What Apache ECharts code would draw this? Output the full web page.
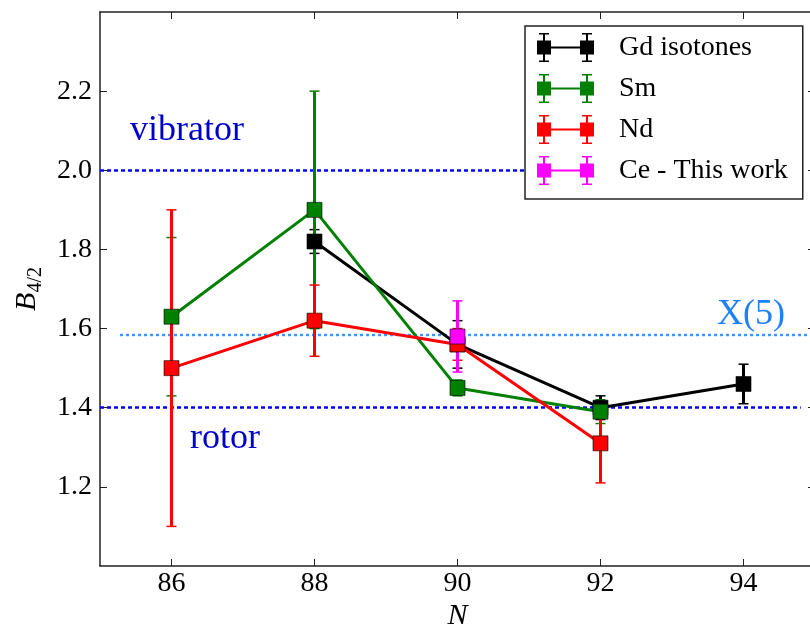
<!DOCTYPE html>
<html>
<head>
<meta charset="utf-8">
<script src="https://cdn.jsdelivr.net/npm/echarts@6/dist/echarts.min.js"></script>
<style>
  html, body { margin: 0; padding: 0; background: #fff; }
  #chart { width: 810px; height: 630px; }
</style>
</head>
<body>
<div id="chart"></div>
<script>
// tick labels
const xTicks = [86, 88, 90, 92, 94];
const yTicks = [1.2, 1.4, 1.6, 1.8, 2.0, 2.2];

// Gd isotones
const gdN = [88, 90, 92, 94];
const gdVal = [1.82, 1.56, 1.40, 1.46];
const gdErr = [0.03, 0.06, 0.03, 0.05];

// Sm
const smN = [86, 88, 90, 92];
const smVal = [1.63, 1.90, 1.45, 1.39];
const smErr = [0.20, 0.30, 0.02, 0.03];

// Nd
const ndN = [86, 88, 90, 92];
const ndVal = [1.50, 1.62, 1.56, 1.31];
const ndErr = [0.40, 0.09, 0.04, 0.10];

// Ce - this work
const ceN = [90];
const ceVal = [1.58];
const ceErr = [0.09];

// reference limits
const vibrator = 2.0;
const rotor = 1.4;
const x5 = 1.585;

const serif = "'Liberation Serif', 'DejaVu Serif', serif";

const dom = document.getElementById("chart");
const myChart = echarts.init(dom);

function lineSeries(name, ns, vals, color) {
  return {
    name: name,
    type: "line",
    z: 3,
    data: ns.map((n, i) => [n, vals[i]]),
    symbol: "rect",
    symbolSize: 15,
    itemStyle: { color: color, borderColor: "rgba(0,0,0,0.6)", borderWidth: 1 },
    lineStyle: { color: color, width: 3 },
    emphasis: { disabled: true },
  };
}

function errSeries(name, ns, vals, errs, color) {
  return {
    name: name,
    type: "custom",
    z: 2,
    data: ns.map((n, i) => [n, vals[i], errs[i]]),
    renderItem: function (params, api) {
      const x = api.value(0), y = api.value(1), e = api.value(2);
      const top = api.coord([x, y + e]);
      const bot = api.coord([x, y - e]);
      return {
        type: "group",
        children: [
          { type: "line", shape: { x1: top[0], y1: top[1], x2: bot[0], y2: bot[1] }, style: { stroke: color, lineWidth: 3 } },
          { type: "line", shape: { x1: top[0] - 5, y1: top[1], x2: top[0] + 5, y2: top[1] }, style: { stroke: color, lineWidth: 1.5 } },
          { type: "line", shape: { x1: bot[0] - 5, y1: bot[1], x2: bot[0] + 5, y2: bot[1] }, style: { stroke: color, lineWidth: 1.5 } },
        ],
      };
    },
  };
}

const legendIcon =
  "path://M0 7.5h14v14h-14Z M43 7.5h14v14h-14Z M14 13.5h29v2h-29Z" +
  " M6 0h2v29h-2Z M2 0h10v1.5h-10Z M2 27.5h10v1.5h-10Z" +
  " M49 0h2v29h-2Z M45 0h10v1.5h-10Z M45 27.5h10v1.5h-10Z";

const option = {
  animation: false,
  grid: { left: 100, top: 12, right: -5, bottom: 64, outerBoundsMode: "none", containLabel: false },
  legend: {
    orient: "vertical",
    left: 525,
    top: 26,
    z: 10,
    data: ["Gd isotones", "Sm", "Nd", "Ce - This work"],
    icon: legendIcon,
    itemWidth: 57,
    itemHeight: 29,
    itemGap: 12,
    padding: [7, 15, 14, 12],
    backgroundColor: "#fff",
    borderColor: "#222",
    borderWidth: 1.5,
    itemStyle: { borderWidth: 0 },
    textStyle: { fontFamily: serif, fontSize: 28, color: "#000", lineHeight: 29, padding: [0, 0, 0, 20] },
  },
  xAxis: [
    {
      type: "value",
      min: 85,
      max: 95,
      name: "N",
      nameLocation: "middle",
      nameGap: 35,
      nameMoveOverlap: false,
      nameTextStyle: { fontFamily: serif, fontStyle: "italic", fontSize: 30, color: "#000" },
      axisLine: { lineStyle: { color: "#222", width: 1.5 } },
      axisTick: { inside: true, length: 7, customValues: xTicks, lineStyle: { color: "#222" } },
      axisLabel: { customValues: xTicks, margin: 4, fontFamily: serif, fontSize: 28, color: "#000" },
      splitLine: { show: false },
    },
    {
      type: "value",
      position: "top",
      min: 85,
      max: 95,
      axisLine: { lineStyle: { color: "#222", width: 1.5 } },
      axisTick: { inside: true, length: 7, customValues: xTicks, lineStyle: { color: "#222" } },
      axisLabel: { show: false },
      splitLine: { show: false },
    },
  ],
  yAxis: [
    {
      type: "value",
      min: 1.0,
      max: 2.4,
      name: "{b|B}{s|4/2}",
      nameLocation: "middle",
      nameRotate: 90,
      nameGap: 54,
      nameMoveOverlap: false,
      nameTextStyle: {
        rich: {
          b: { fontFamily: serif, fontStyle: "italic", fontSize: 30, color: "#000", lineHeight: 30, padding: [0, 0, 8, 0] },
          s: { fontFamily: serif, fontSize: 20, color: "#000", lineHeight: 20, verticalAlign: "bottom" },
        },
      },
      axisLine: { show: true, lineStyle: { color: "#222", width: 1.5 } },
      axisTick: { show: true, inside: true, length: 7, customValues: yTicks, lineStyle: { color: "#222" } },
      axisLabel: {
        customValues: yTicks,
        margin: 8,
        fontFamily: serif,
        fontSize: 28,
        color: "#000",
        formatter: (v) => v.toFixed(1),
      },
      splitLine: { show: false },
    },
    {
      type: "value",
      position: "right",
      min: 1.0,
      max: 2.4,
      axisLine: { show: false },
      axisTick: { show: true, inside: true, length: 7, customValues: yTicks, lineStyle: { color: "#222" } },
      axisLabel: { show: false },
      splitLine: { show: false },
    },
  ],
  series: [
    {
      name: "limits",
      type: "line",
      data: [],
      z: 1,
      markLine: {
        silent: true,
        z: 1,
        symbol: "none",
        label: { show: false },
        data: [
          [{ coord: [85, vibrator], lineStyle: { color: "#0000ff", width: 2.6, type: [4, 3] } }, { coord: [94.8, vibrator] }],
          [{ coord: [85, rotor], lineStyle: { color: "#0000ff", width: 2.6, type: [4, 3] } }, { coord: [94.8, rotor] }],
          [{ coord: [85.28, x5], lineStyle: { color: "#3399ff", width: 2.4, type: [3, 3] } }, { coord: [95, x5] }],
        ],
      },
      markPoint: {
        silent: true,
        z: 1,
        symbol: "rect",
        symbolSize: 0,
        label: { show: true, position: "right", distance: 0, fontFamily: serif, fontSize: 36 },
        data: [
          { coord: [85.42, 2.1], value: "vibrator", label: { formatter: "vibrator", color: "#0000cc" } },
          { coord: [86.26, 1.323], value: "rotor", label: { formatter: "rotor", color: "#0000cc" } },
          { coord: [93.63, 1.636], value: "X(5)", label: { formatter: "X(5)", color: "#1e7fff" } },
        ],
      },
    },
    lineSeries("Gd isotones", gdN, gdVal, "#000000"),
    lineSeries("Sm", smN, smVal, "#008000"),
    lineSeries("Nd", ndN, ndVal, "#ff0000"),
    lineSeries("Ce - This work", ceN, ceVal, "#ff00ff"),
    errSeries("Gd isotones", gdN, gdVal, gdErr, "#000000"),
    errSeries("Sm", smN, smVal, smErr, "#008000"),
    errSeries("Nd", ndN, ndVal, ndErr, "#ff0000"),
    errSeries("Ce - This work", ceN, ceVal, ceErr, "#ff00ff"),
  ],
};
myChart.setOption(option);
</script>
</body>
</html>
